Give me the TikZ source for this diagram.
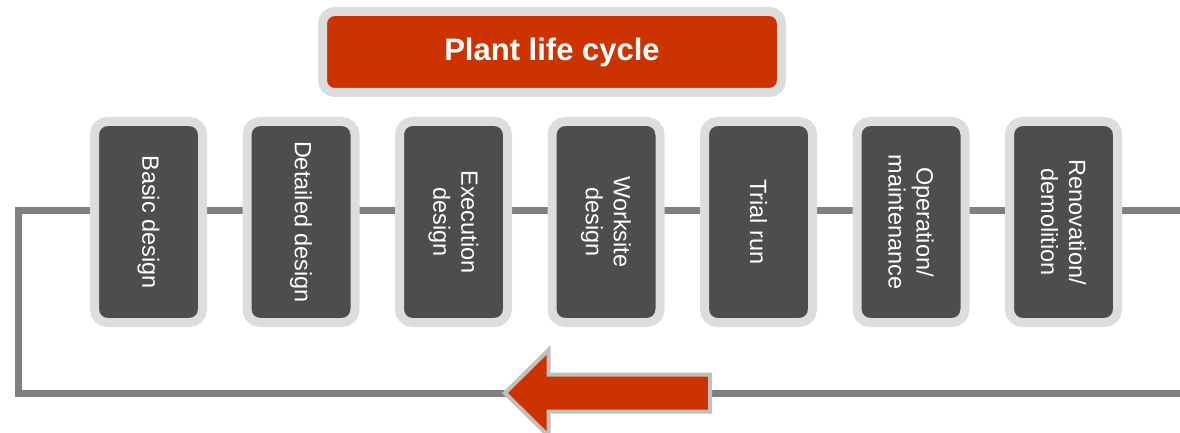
\documentclass[tikz,border=0pt]{standalone}
\usepackage{fontspec}
\setmainfont{Liberation Sans}
\definecolor{darkbox}{HTML}{4D4D4D}
\definecolor{lightrim}{HTML}{DDDDDD}
\definecolor{linegray}{HTML}{808080}
\definecolor{plantred}{HTML}{CC3300}
\definecolor{arrowrim}{HTML}{C0C0C0}
\tikzset{
  stagebox/.style={rotate=-90, draw=lightrim, line width=9pt, fill=darkbox,
    rounded corners=13pt, minimum width=201pt, minimum height=108pt, inner sep=0pt,
    text=white, align=center, font=\fontsize{23.5}{28}\selectfont},
  titlebox/.style={draw=lightrim, line width=9pt, fill=plantred, rounded corners=12pt,
    minimum width=459pt, minimum height=81pt, inner sep=0pt, text=white,
    font=\fontsize{31}{36}\selectfont\bfseries},
  cycleline/.style={draw=linegray, line width=7pt},
  backarrow/.style={fill=plantred, draw=arrowrim, line width=4pt, line join=miter}
}
\begin{document}
\begin{tikzpicture}[x=1pt,y=-1pt]
\useasboundingbox (0,0) rectangle (1180,433);
\coordinate (topR) at (1184,210);
\coordinate (topL) at (18,210);
\coordinate (botL) at (18,393);
\coordinate (botR) at (1184,393);
\draw[cycleline] (topR) -- (topL) -- (botL) -- (botR);
\node[titlebox] (title) at (552,52) {Plant life cycle};
\node[stagebox] (s1) at (148.5,222) {Basic design};
\node[stagebox] (s2) at (301,222) {Detailed design};
\node[stagebox] (s3) at (453.5,222) {Execution\\design};
\node[stagebox] (s4) at (606,222) {Worksite\\design};
\node[stagebox] (s5) at (758.5,222) {Trial run};
\node[stagebox] (s6) at (911,222) {Operation/\\maintenance};
\node[stagebox] (s7) at (1063.5,222) {Renovation/\\demolition};
\draw[backarrow] (505,393) -- (548.5,350) -- (548.5,374.5) -- (710,374.5) -- (710,411.5) -- (548.5,411.5) -- (548.5,436) -- cycle;
\end{tikzpicture}
\end{document}
